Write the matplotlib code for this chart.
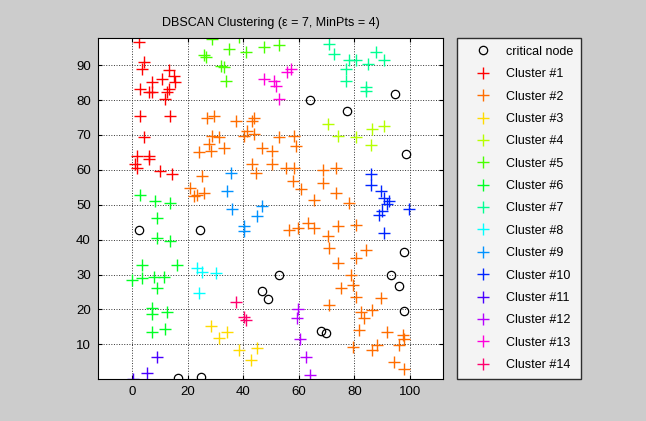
import numpy as np
import matplotlib
matplotlib.use("Agg")
import matplotlib.pyplot as plt
from matplotlib.colors import hsv_to_rgb

plt.rcParams['font.family'] = ['Liberation Sans', 'DejaVu Sans']

# critical (noise) nodes
crit_x = [64.0, 77.3, 94.6, 98.6, 2.3, 24.5, 97.9, 16.4, 24.9, 52.8, 46.8, 48.8, 93.1, 95.9, 97.9, 68.1, 69.6]
crit_y = [80.0, 76.9, 81.6, 64.5, 42.7, 42.9, 36.4, 0.4, 0.6, 29.9, 25.4, 23.0, 29.9, 26.7, 19.5, 13.8, 13.1]

# cluster members
c1_x = [2.3, 4.1, 3.5, 13.1, 14.9, 10.7, 15.5, 7.1, 13.1, 2.9, 5.9, 7.1, 12.5, 11.9, 2.9, 13.7, 4.1, 1.7, 5.9,
        1.1, 1.7, 5.9, 10.1, 14.3]
c1_y = [96.7, 90.9, 89.0, 88.5, 87.0, 86.1, 85.1, 85.1, 83.2, 83.2, 82.2, 82.2, 82.2, 80.3, 75.5, 75.5, 69.3, 64.0, 64.0,
        61.6, 60.6, 63.0, 59.7, 58.7]
c2_x = [27.0, 29.4, 37.2, 43.8, 43.2, 28.8, 31.2, 41.4, 40.2, 43.8, 27.5, 28.2, 33.0, 23.9,
        52.8, 58.2, 58.8, 46.8, 50.4,
        25.2, 20.9, 22.1, 23.4, 25.8, 43.0, 44.5,
        50.4, 55.2, 58.2, 57.7, 60.6, 68.5, 73.3, 68.5, 73.3, 65.4, 78.1, 63.1, 65.4, 56.4, 59.5, 73.9, 80.5,
        70.3, 70.9, 84.1, 73.9, 80.5,
        78.7, 79.3, 75.1, 80.5, 89.5, 70.9, 82.3, 83.5, 86.5, 81.7, 91.9, 97.4, 97.9, 79.3, 86.5, 88.3, 96.1,
        94.3, 97.9]
c2_y = [75.0, 75.5, 74.1, 75.0, 74.1, 69.7, 69.3, 71.2, 69.7, 70.2, 67.3, 65.4, 66.4, 65.0,
        69.3, 69.7, 66.9, 66.4, 65.4,
        58.2, 54.9, 52.4, 52.9, 53.4, 61.6, 59.0,
        61.6, 60.6, 60.6, 56.8, 54.4, 60.1, 60.6, 56.3, 53.4, 51.5, 50.5, 44.8, 43.3, 42.9, 43.3, 43.8, 44.3,
        40.9, 37.6, 37.1, 33.3, 34.7,
        29.9, 27.0, 26.0, 23.6, 23.2, 21.2, 19.3, 17.4, 19.8, 14.0, 13.5, 12.6, 11.6, 9.2, 8.3, 9.7, 9.7,
        4.9, 3.0]
c3_x = [28.2, 31.2, 34.2, 38.4, 42.6, 45.0]
c3_y = [15.3, 11.9, 13.5, 8.3, 5.4, 8.8]
c4_x = [70.3, 74.1, 80.5, 86.5, 90.7, 85.9]
c4_y = [73.1, 69.7, 69.3, 71.7, 72.6, 67.1]
c5_x = [28.8, 38.4, 25.7, 26.4, 34.8, 40.8, 31.8, 33.0, 33.6, 47.4, 52.8]
c5_y = [97.6, 98.1, 92.8, 92.3, 94.7, 93.9, 89.9, 89.4, 85.6, 95.2, 95.7]
c6_x = [3.5, 15.9, -0.1, 3.5, 7.7, 11.3, 8.9, 7.1, 7.1, 12.5, 7.1, 11.9,
        2.9, 8.3, 13.7, 8.9, 8.9, 13.7]
c6_y = [32.8, 32.8, 28.4, 28.9, 29.4, 29.4, 26.0, 20.3, 18.8, 19.3, 13.5, 14.5,
        52.9, 51.0, 50.5, 46.2, 40.5, 39.5]
c7_x = [70.9, 72.7, 78.1, 80.5, 76.9, 84.7, 87.7, 90.7, 76.9, 84.1, 84.1]
c7_y = [96.2, 93.3, 91.4, 91.4, 89.0, 90.4, 93.8, 91.4, 85.6, 83.7, 82.7]
c8_x = [23.4, 25.2, 30.0, 23.9]
c8_y = [31.8, 30.8, 30.4, 24.6]
c9_x = [35.4, 34.2, 36.0, 40.2, 40.2, 45.0, 46.8]
c9_y = [59.2, 53.9, 48.8, 43.8, 42.4, 46.7, 49.6]
c10_x = [85.9, 85.9, 89.5, 90.7, 92.5, 91.9, 90.1, 88.9, 99.7, 90.7]
c10_y = [58.7, 55.8, 53.9, 52.0, 51.0, 50.1, 48.1, 47.2, 48.8, 41.9]
c11_x = [8.9, 5.3, 0.3]
c11_y = [6.3, 1.7, 0.1]
c12_x = [59.7, 59.2, 60.4, 62.5, 64.0]
c12_y = [20.0, 17.4, 11.4, 6.3, 1.1]
c13_x = [47.4, 51.0, 51.6, 55.8, 57.0, 52.8]
c13_y = [86.1, 85.6, 84.1, 88.0, 89.0, 80.3]
c14_x = [37.4, 40.2, 40.8]
c14_y = [22.2, 17.9, 17.1]

clusters_x = [c1_x, c2_x, c3_x, c4_x, c5_x, c6_x, c7_x, c8_x, c9_x, c10_x, c11_x, c12_x, c13_x, c14_x]
clusters_y = [c1_y, c2_y, c3_y, c4_y, c5_y, c6_y, c7_y, c8_y, c9_y, c10_y, c11_y, c12_y, c13_y, c14_y]

n = len(clusters_x)
colors = hsv_to_rgb(np.column_stack([np.arange(n) / n, np.ones(n), np.ones(n)]))

fig = plt.figure(figsize=(6.46, 4.21), dpi=100, facecolor='#cccccc')
ax = fig.add_axes([0.1512, 0.0993, 0.535, 0.8097])

ax.plot(crit_x, crit_y, 'o', mfc='none', mec='k', ms=6, mew=0.9, label='critical node')
for k in range(n):
    ax.plot(clusters_x[k], clusters_y[k], '+', color=colors[k], ms=8, mew=1.0,
            linestyle='none', label='Cluster #%d' % (k + 1))

ax.set_xlim(-12.5, 112)
ax.set_ylim(0, 97.7)
ax.set_xticks([0, 20, 40, 60, 80, 100])
ax.set_yticks([10, 20, 30, 40, 50, 60, 70, 80, 90])
ax.tick_params(direction='in', top=True, right=True, length=3, labelsize=9.5, pad=5)
ax.grid(True, color='#333333', linestyle=':', linewidth=0.7)
for s in ax.spines.values():
    s.set_linewidth(0.8)
ax.set_title('DBSCAN Clustering (\u03b5 = 7, MinPts = 4)', fontsize=9, pad=9)

leg = ax.legend(loc='upper left', bbox_to_anchor=(457 / 646, 1 - 38.3 / 421),
                bbox_transform=fig.transFigure, fontsize=9, frameon=True, fancybox=False,
                edgecolor='k', labelspacing=0.83, handlelength=3.0, handletextpad=0.35,
                borderpad=0.6, borderaxespad=0)
leg.get_frame().set_linewidth(1.0)

fig.savefig('out.png', dpi=100, facecolor=fig.get_facecolor())
